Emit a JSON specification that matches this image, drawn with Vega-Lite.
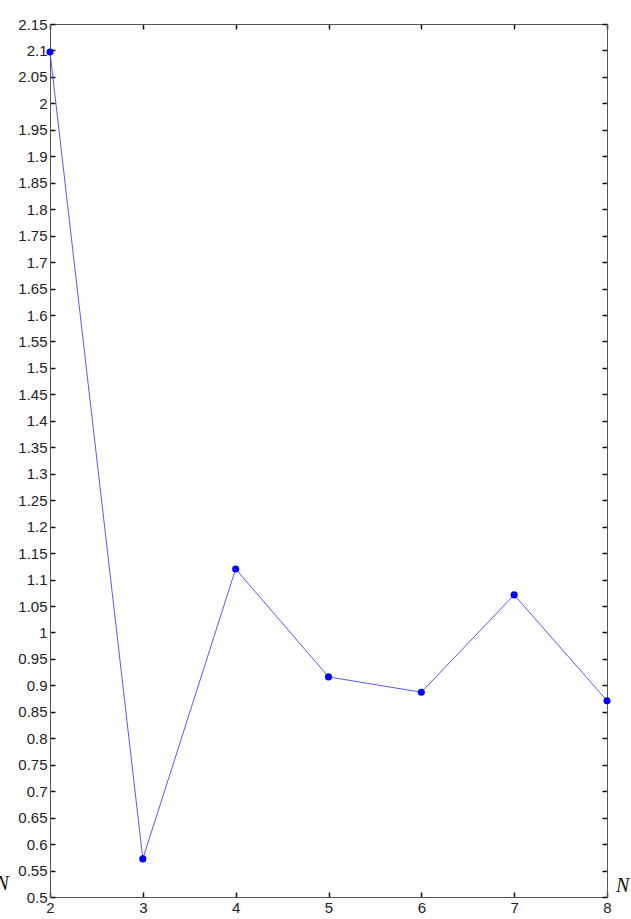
{
  "$schema": "https://vega.github.io/schema/vega-lite/v6.json",
  "width": 557,
  "height": 873,
  "autosize": {"type": "none"},
  "padding": {"left": 50, "top": 24, "right": 24, "bottom": 22},
  "background": "white",
  "config": {
    "view": {"stroke": null},
    "axis": {"grid": false, "labelFont": "Liberation Sans", "labelFontSize": 15, "labelColor": "#222", "domainColor": "#555", "tickColor": "#111", "tickSize": -5, "tickWidth": 1.5}
  },
  "datasets": {
    "pts": [
      {"N": 2, "v": 2.097},
      {"N": 3, "v": 0.572},
      {"N": 4, "v": 1.120},
      {"N": 5, "v": 0.916},
      {"N": 6, "v": 0.887},
      {"N": 7, "v": 1.071},
      {"N": 8, "v": 0.871}
    ],
    "labels": [
      {"N": 8.17, "v": 0.52, "t": "N"},
      {"N": 1.485, "v": 0.524, "t": "N"}
    ]
  },
  "resolve": {"axis": {"x": "independent", "y": "independent"}},
  "layer": [
    {
      "data": {"name": "pts"},
      "mark": {"type": "line", "color": "#4545ff", "strokeWidth": 0.9},
      "encoding": {
        "x": {"field": "N", "type": "quantitative", "scale": {"domain": [2, 8], "nice": false, "zero": false},
              "axis": {"orient": "bottom", "values": [2, 3, 4, 5, 6, 7, 8], "title": null, "labelPadding": 8, "labelFlush": false}},
        "y": {"field": "v", "type": "quantitative", "scale": {"domain": [0.5, 2.15], "nice": false, "zero": false},
              "axis": {"orient": "left", "title": null, "format": "~g", "labelPadding": 8, "labelFlush": false,
                       "values": [0.5, 0.55, 0.6, 0.65, 0.7, 0.75, 0.8, 0.85, 0.9, 0.95, 1, 1.05, 1.1, 1.15, 1.2, 1.25, 1.3, 1.35, 1.4, 1.45, 1.5, 1.55, 1.6, 1.65, 1.7, 1.75, 1.8, 1.85, 1.9, 1.95, 2, 2.05, 2.1, 2.15]}}
      }
    },
    {
      "data": {"name": "pts"},
      "mark": {"type": "point", "filled": true, "color": "#0000ff", "size": 50, "opacity": 1, "clip": false},
      "encoding": {
        "x": {"field": "N", "type": "quantitative", "axis": {"orient": "top", "values": [2, 3, 4, 5, 6, 7, 8], "title": null, "labels": false}},
        "y": {"field": "v", "type": "quantitative", "axis": {"orient": "right", "title": null, "labels": false,
                       "values": [0.5, 0.55, 0.6, 0.65, 0.7, 0.75, 0.8, 0.85, 0.9, 0.95, 1, 1.05, 1.1, 1.15, 1.2, 1.25, 1.3, 1.35, 1.4, 1.45, 1.5, 1.55, 1.6, 1.65, 1.7, 1.75, 1.8, 1.85, 1.9, 1.95, 2, 2.05, 2.1, 2.15]}}
      }
    },
    {
      "data": {"name": "labels"},
      "mark": {"type": "text", "font": "Liberation Serif", "fontStyle": "italic", "fontSize": 20, "color": "#111", "align": "center", "baseline": "middle", "clip": false},
      "encoding": {
        "x": {"field": "N", "type": "quantitative", "axis": null},
        "y": {"field": "v", "type": "quantitative", "axis": null},
        "text": {"field": "t"}
      }
    }
  ]
}
